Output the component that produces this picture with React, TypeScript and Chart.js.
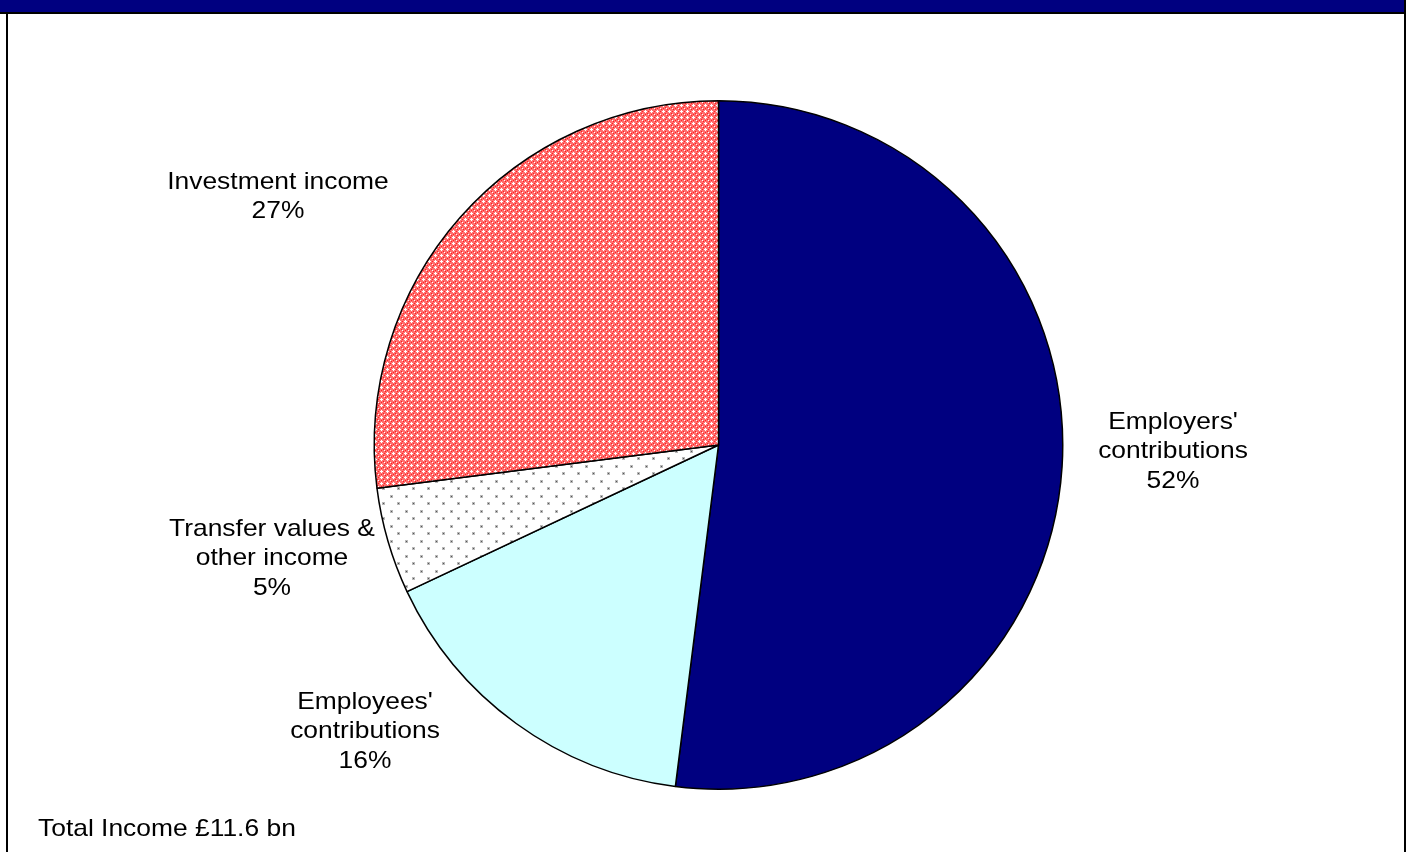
import React, { useEffect, useRef } from "react";
import { Chart, registerables } from "chart.js";

Chart.register(...registerables);

// Income sources (share of total, %)
const categories: string[] = [
  "Employers' contributions",
  "Employees' contributions",
  "Transfer values & other income",
  "Investment income",
];
const shares: number[] = [52, 16, 5, 27];

// Label text lines per slice (the percentage line is appended from the data)
const labelLines: string[][] = [
  ["Employers'", "contributions"],
  ["Employees'", "contributions"],
  ["Transfer values &", "other income"],
  ["Investment income"],
];
const footnote = "Total Income £11.6 bn";

// Where each label block is centred (x, y of first line)
const labelAnchors: [number, number][] = [
  [1173, 422],
  [365, 702],
  [272, 529],
  [278, 182],
];
const LINE_H = 29.5;
const FONT = "24px 'Liberation Sans', Arial, sans-serif";
const STRETCH = 1.1;

function makeTile(w: number, h: number, paint: (c: CanvasRenderingContext2D) => void) {
  const cv = document.createElement("canvas");
  cv.width = w;
  cv.height = h;
  const c = cv.getContext("2d")!;
  paint(c);
  return c.createPattern(cv, "repeat")!;
}

function drawText(ctx: CanvasRenderingContext2D, text: string, x: number, y: number, align: "center" | "left") {
  ctx.save();
  ctx.translate(x, y);
  ctx.scale(STRETCH, 1);
  ctx.textAlign = align;
  ctx.textBaseline = "middle";
  ctx.fillText(text, 0, 0);
  ctx.restore();
}

export default function App() {
  const ref = useRef<HTMLCanvasElement>(null);

  useEffect(() => {
    const canvas = ref.current!;

    // Red trellis fill
    const trellis = makeTile(6, 6, (c) => {
      c.fillStyle = "#ff7070";
      c.fillRect(0, 0, 6, 6);
      c.fillStyle = "#ff2020";
      c.fillRect(0, 3, 1, 1);
      c.fillRect(3, 0, 1, 1);
      c.fillRect(1, 1, 1, 1);
      c.fillRect(5, 5, 1, 1);
      c.fillStyle = "#ffffff";
      c.fillRect(3, 2, 1, 3);
      c.fillRect(2, 3, 3, 1);
      c.fillRect(0, 0, 1, 1);
    });

    // Sparse grey dots
    const dots = makeTile(15, 15, (c) => {
      c.fillStyle = "#ffffff";
      c.fillRect(0, 0, 15, 15);
      c.fillStyle = "#b8b8b8";
      c.fillRect(0, 0, 3, 3);
      c.fillRect(7, 7, 3, 3);
      c.fillStyle = "#555555";
      c.fillRect(1, 1, 1, 1);
      c.fillRect(8, 8, 1, 1);
    });

    const framePlugin = {
      id: "frame",
      beforeDraw(chart: Chart) {
        const ctx = chart.ctx;
        const W = chart.width;
        const H = chart.height;
        ctx.save();
        ctx.fillStyle = "#ffffff";
        ctx.fillRect(0, 0, W, H);
        ctx.fillStyle = "#000080";
        ctx.fillRect(0, 0, 1404, 12);
        ctx.fillStyle = "#000000";
        ctx.fillRect(0, 12, 1404, 2);
        ctx.fillRect(6, 12, 2, H - 12);
        ctx.fillRect(1404, 0, 2, H);
        ctx.restore();
      },
      afterDraw(chart: Chart) {
        const ctx = chart.ctx;
        const total = shares.reduce((a, b) => a + b, 0);
        ctx.save();
        ctx.fillStyle = "#000000";
        ctx.font = FONT;
        shares.forEach((v, i) => {
          const lines = [...labelLines[i], `${Math.round((v / total) * 100)}%`];
          const [x, y] = labelAnchors[i];
          lines.forEach((t, k) => drawText(ctx, t, x, y + k * LINE_H, "center"));
        });
        drawText(ctx, footnote, 38, 829, "left");
        ctx.restore();
      },
    };

    const chart = new Chart(canvas, {
      type: "pie",
      data: {
        labels: categories,
        datasets: [
          {
            data: shares,
            backgroundColor: ["#000080", "#ccffff", dots, trellis],
            borderColor: "#000000",
            borderWidth: 1.5,
          },
        ],
      },
      options: {
        responsive: false,
        devicePixelRatio: 1,
        animation: false,
        layout: { padding: { top: 100, bottom: 62, left: 373.5, right: 344.5 } },
        plugins: {
          legend: { display: false },
          tooltip: { enabled: false },
        },
      },
      plugins: [framePlugin],
    });
    return () => chart.destroy();
  }, []);

  return (
    <div style={{ position: "absolute", left: 0, top: 0, width: 1408, height: 852 }}>
      <canvas ref={ref} width={1408} height={852} style={{ display: "block" }} />
    </div>
  );
}
